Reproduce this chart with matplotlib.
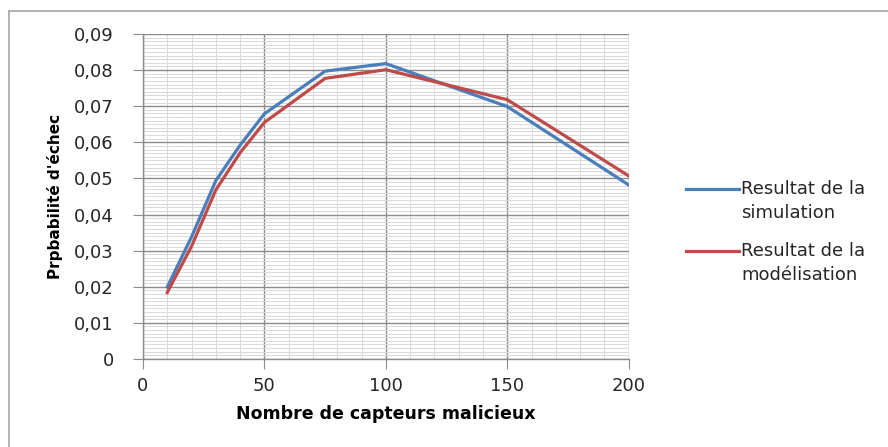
import numpy as np
import matplotlib.pyplot as plt
from matplotlib.ticker import MultipleLocator, FuncFormatter
from matplotlib.lines import Line2D
from matplotlib.legend_handler import HandlerLine2D

# data
nb_capteurs = [10, 20, 30, 40, 50, 75, 100, 150, 200]
simulation = [0.0199, 0.0338, 0.0494, 0.0592, 0.0679, 0.0797, 0.0818, 0.0699, 0.0482]
modelisation = [0.0184, 0.0312, 0.0468, 0.0571, 0.0655, 0.0777, 0.0801, 0.0718, 0.0507]
labels = ["Resultat de la\nsimulation", "Resultat de la\nmodélisation"]

blue = "#4a7ebb"
red = "#be4b48"


# legend line aligned with the first text line (like Excel)
class HandlerTop(HandlerLine2D):
    def create_artists(self, legend, orig_handle, xdescent, ydescent,
                       width, height, fontsize, trans):
        arts = super().create_artists(legend, orig_handle, xdescent, ydescent,
                                      width, height, fontsize, trans)
        for a in arts:
            a.set_ydata(np.asarray(a.get_ydata()) + fontsize * 0.7)
        return arts


fig = plt.figure(figsize=(8.88, 4.47), dpi=100)
ax = fig.add_axes([0.161, 0.197, 0.547, 0.727])

# outer chart border (only top and left visible in the image)
fig.add_artist(Line2D([9/888, 1.0], [1 - 11/447, 1 - 11/447], transform=fig.transFigure,
                      color="#a6a6a6", lw=1.2))
fig.add_artist(Line2D([9/888, 9/888], [0.0, 1 - 11/447], transform=fig.transFigure,
                      color="#a6a6a6", lw=1.2))

ax.plot(nb_capteurs, simulation, color=blue, lw=2.3, label=labels[0], zorder=3)
ax.plot(nb_capteurs, modelisation, color=red, lw=2.3, label=labels[1], zorder=3)

ax.set_xlim(0, 200)
ax.set_ylim(0, 0.09)
ax.xaxis.set_major_locator(MultipleLocator(50))
ax.xaxis.set_minor_locator(MultipleLocator(10))
ax.yaxis.set_major_locator(MultipleLocator(0.01))
ax.yaxis.set_minor_locator(MultipleLocator(0.001))

ax.grid(which="major", color="#8c8c8c", lw=1.0)
ax.grid(which="minor", color="#dadada", lw=0.75)
ax.set_axisbelow(True)

for s in ["top", "right"]:
    ax.spines[s].set_visible(False)
for s in ["left", "bottom"]:
    ax.spines[s].set_color("#8c8c8c")
    ax.spines[s].set_linewidth(1.0)

ax.tick_params(which="major", direction="out", length=7, color="#8c8c8c",
               labelsize=13, labelcolor="#262626")
ax.tick_params(axis="y", which="major", pad=14)
ax.tick_params(axis="x", which="major", pad=6)
ax.tick_params(which="minor", length=0)

ax.yaxis.set_major_formatter(FuncFormatter(lambda v, p: "0" if abs(v) < 1e-9 else f"{v:.2f}".replace(".", ",")))
ax.xaxis.set_major_formatter(FuncFormatter(lambda v, p: f"{v:.0f}"))

ax.set_xlabel("Nombre de capteurs malicieux", fontsize=12.5, fontweight="bold", labelpad=7)
ax.set_ylabel("Prpbabilité d'échec", fontsize=11, fontweight="bold", labelpad=8)

leg = ax.legend(loc="center left", bbox_to_anchor=(1.085, 0.39), frameon=False,
                fontsize=13, handlelength=2.9, handletextpad=0.15, labelspacing=1.1,
                labelcolor="#262626", handler_map={Line2D: HandlerTop()})
for t in leg.get_texts():
    t.set_linespacing(1.45)

fig.savefig("out.png", dpi=100)
